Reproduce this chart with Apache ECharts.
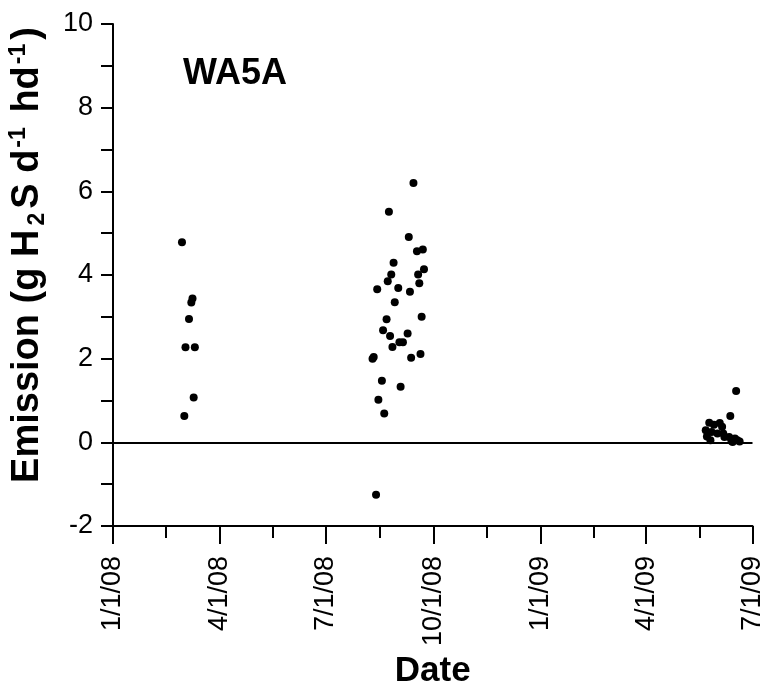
<!DOCTYPE html>
<html>
<head>
<meta charset="utf-8">
<script src="https://cdn.jsdelivr.net/npm/echarts@6/dist/echarts.min.js"></script>
<style>html,body{margin:0;padding:0;background:#fff}#c{width:765px;height:690px}</style>
</head>
<body>
<div id="c"></div>
<script>
// Period 1 (early 2008)
const dates1 = ['2008-02-29','2008-03-09','2008-03-08','2008-03-06','2008-03-03','2008-03-11','2008-03-10','2008-03-02'];
const values1 = [4.78, 3.44, 3.34, 2.95, 2.27, 2.27, 1.07, 0.63];
// Period 2 (late summer 2008)
const dates2 = ['2008-09-14','2008-08-24','2008-09-10','2008-09-17','2008-09-22','2008-08-28','2008-09-23','2008-08-26',
  '2008-09-18','2008-08-23','2008-09-19','2008-08-14','2008-09-01','2008-09-11','2008-08-29','2008-08-22','2008-09-21',
  '2008-08-19','2008-08-25','2008-09-09','2008-08-27','2008-09-02','2008-09-05','2008-08-11','2008-08-10','2008-09-12',
  '2008-09-20','2008-08-18','2008-09-03','2008-08-15','2008-08-20','2008-08-13'];
const values2 = [6.20, 5.51, 4.91, 4.57, 4.61, 4.29, 4.14, 4.01,
  4.01, 3.85, 3.80, 3.66, 3.69, 3.60, 3.35, 2.94, 3.00,
  2.68, 2.54, 2.60, 2.28, 2.39, 2.39, 2.04, 2.00, 2.02,
  2.11, 1.47, 1.33, 1.02, 0.69, -1.25];
// Period 3 (spring 2009)
const dates3 = ['2009-06-17','2009-06-12','2009-05-25','2009-05-29','2009-06-03','2009-06-05','2009-05-22','2009-05-27',
  '2009-06-01','2009-06-06','2009-05-23','2009-05-26','2009-06-07','2009-06-11','2009-06-13','2009-06-16','2009-06-18',
  '2009-06-20','2009-06-14'];
const values3 = [1.23, 0.63, 0.47, 0.42, 0.46, 0.37, 0.29, 0.25,
  0.21, 0.21, 0.14, 0.05, 0.13, 0.13, 0.03, 0.09, 0.05,
  0.02, 0.01];
// Axis ticks
const xTickDates = ['2008-01-01','2008-04-01','2008-07-01','2008-10-01','2009-01-01','2009-04-01','2009-07-01'];
const xTickLabels = ['1/1/08','4/1/08','7/1/08','10/1/08','1/1/09','4/1/09','7/1/09'];
const yMin = -2, yMax = 10, yStep = 1;

const DAY = 86400000;
const ORIGIN = Date.UTC(2008, 0, 1);
function dayNum(s){ const p = s.split('-').map(Number); return Math.round((Date.UTC(p[0], p[1]-1, p[2]) - ORIGIN) / DAY); }
const xTicks = xTickDates.map(dayNum);
const xMinor = [];
for (let i = 0; i < xTicks.length - 1; i++) xMinor.push((xTicks[i] + xTicks[i+1]) / 2);
function pairs(d, v){ return d.map((s, i) => [dayNum(s), v[i]]); }
const allData = pairs(dates1, values1).concat(pairs(dates2, values2), pairs(dates3, values3));

const FONT = 'Liberation Sans, Arial, sans-serif';
const chart = echarts.init(document.getElementById('c'));
chart.setOption({
  animation: false,
  backgroundColor: '#fff',
  title: {
    text: 'WA5A', left: 183, top: 56, padding: 0,
    textStyle: { fontFamily: FONT, fontWeight: 'bold', fontSize: 36, color: '#000' }
  },
  grid: { left: 113, right: 12.5, top: 24, bottom: 164, containLabel: false, outerBoundsMode: 'none' },
  xAxis: [{
    type: 'value', min: xTicks[0], max: xTicks[xTicks.length-1],
    name: 'Date', nameLocation: 'middle', nameGap: 117,
    nameTextStyle: { fontFamily: FONT, fontWeight: 'bold', fontSize: 35, color: '#000' },
    axisLine: { show: true, onZero: false, lineStyle: { color: '#000', width: 2 } },
    axisTick: { show: true, customValues: xTicks, length: 18, lineStyle: { color: '#000', width: 2 } },
    axisLabel: {
      customValues: xTicks, rotate: 90, margin: 30,
      fontFamily: FONT, fontSize: 27, color: '#000',
      formatter: function(v){ const i = xTicks.indexOf(Math.round(v)); return i >= 0 ? xTickLabels[i] : ''; }
    },
    splitLine: { show: false }
  }, {
    type: 'value', min: xTicks[0], max: xTicks[xTicks.length-1], position: 'bottom',
    axisLine: { show: false, onZero: false },
    axisTick: { show: true, customValues: xMinor, length: 12, lineStyle: { color: '#000', width: 2 } },
    axisLabel: { show: false },
    splitLine: { show: false }
  }],
  yAxis: {
    type: 'value', min: yMin, max: yMax, interval: yStep,
    name: 'Emission (g H{sub|2}S d{sup|-1} hd{sup|-1})',
    nameLocation: 'middle', nameRotate: 90, nameGap: 64,
    nameTextStyle: {
      fontFamily: FONT, fontWeight: 'bold', fontSize: 38, color: '#000', lineHeight: 42,
      padding: [0, 0, 0, 40],
      rich: {
        sub: { fontFamily: FONT, fontWeight: 'bold', fontSize: 23, color: '#000', verticalAlign: 'bottom', lineHeight: 23, padding: [0, 4, 0, 4] },
        sup: { fontFamily: FONT, fontWeight: 'bold', fontSize: 23, color: '#000', verticalAlign: 'top', lineHeight: 23, padding: [0, 4, 0, 2] }
      }
    },
    axisLine: { show: true, lineStyle: { color: '#000', width: 2 } },
    axisTick: { show: true, length: 12, lineStyle: { color: '#000', width: 2 } },
    axisLabel: {
      margin: 20, fontFamily: FONT, fontSize: 27, color: '#000',
      formatter: function(v){ return (Math.round(v) % 2 === 0) ? String(v) : ''; }
    },
    splitLine: { show: false }
  },
  series: [{
    type: 'scatter', xAxisIndex: 0, data: allData,
    symbol: 'circle', symbolSize: 8,
    itemStyle: { color: '#000', opacity: 1 },
    markLine: {
      silent: true, symbol: ['none', 'none'], label: { show: false },
      lineStyle: { color: '#000', width: 2, type: 'solid', opacity: 1 },
      data: [{ yAxis: 0 }]
    }
  }]
});
</script>
</body>
</html>
